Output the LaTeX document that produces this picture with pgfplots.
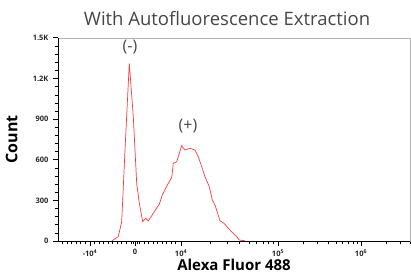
\documentclass[border=0pt]{standalone}
\usepackage{pgfplots}
\pgfplotsset{compat=1.18}
\usepackage{fontspec}
\setmainfont{Open Sans}
\setsansfont{Open Sans}
\definecolor{curve}{RGB}{250,60,60}
\definecolor{titlegray}{RGB}{70,70,70}
\begin{document}
\begin{tikzpicture}
\useasboundingbox (-58pt,-37pt) rectangle (353pt,241pt);
\begin{axis}[
  at={(0pt,0pt)}, anchor=south west,
  scale only axis, width=352pt, height=203pt,
  xmin=58, xmax=410, ymin=0, ymax=1500,
  axis line style={draw=gray!60, line width=0.5pt},
  xtick pos=bottom, ytick pos=left,
  xtick align=outside, ytick align=outside,
  major tick length=5pt, minor tick length=3pt,
  every major tick/.append style={black, line width=1pt},
  every minor tick/.append style={black, line width=0.6pt},
  ytick={0,300,600,900,1200,1500},
  yticklabels={\textbf{0},\textbf{300},\textbf{600},\textbf{900},\textbf{1.2K},\textbf{1.5K}},
  minor ytick={60,120,180,240,360,420,480,540,660,720,780,840,960,1020,1080,1140,1260,1320,1380,1440},
  xtick={90,135,181,278,361},
  xticklabels={\textbf{-10\textsuperscript{4}},\textbf{0},\textbf{10\textsuperscript{4}},\textbf{10\textsuperscript{5}},\textbf{10\textsuperscript{6}}},
  minor xtick={62.5,67,71.5,76,80.5,85,94.5,99,103.5,108,112.5,117,121.5,126,131,133,137,139,144,148.5,153,157.5,162,166.5,171,175.5,210,227,239,249,256.5,263,268.6,273.6,303,317.6,328,336,342.6,348,353,357,386,400.6,410},
  ticklabel style={font=\fontsize{7.5}{8}\selectfont, text=black!85},
  yticklabel style={xshift=-1pt},
  /pgf/number format/assume math mode=true,
  ylabel={\fontsize{16}{17}\selectfont\bfseries Count},
  ylabel style={at={(axis description cs:-0.105,0.5)}},
  xlabel={\fontsize{15}{16}\selectfont\bfseries Alexa Fluor 488},
  xlabel style={yshift=4pt},
  clip=false,
]
\addplot[curve, line width=0.7pt] coordinates {
(111.7,0) (118.3,32) (121.7,143) (125,672) (129.3,1313) (133.3,918) (136.7,426)
(139.3,279) (142.7,143) (145.7,168) (148.3,148) (153.3,205) (159.3,273) (162.7,347)
(168.3,426) (171.7,468) (173.3,574) (176.7,586) (181.7,704) (185,672) (190,685)
(195,672) (198.3,623) (201.7,549) (205,475) (209.3,401) (212.3,303) (215,266)
(220,150) (224,131) (228.3,94) (232.7,61) (236.7,32) (239.3,7) (245,2)
};
\draw[black, line width=0.9pt] (rel axis cs:0,1) -- (rel axis cs:0,0) -- (rel axis cs:1,0);
\node[font=\fontsize{16}{17}\selectfont, text=titlegray] at (axis cs:130,1430) {(-)};
\node[font=\fontsize{16}{17}\selectfont, text=titlegray] at (axis cs:188,850) {(+)};
\end{axis}
\node[font=\fontsize{18.5}{19}\selectfont, text=titlegray] at (169pt,222pt) {With Autofluorescence Extraction};
\end{tikzpicture}
\end{document}
